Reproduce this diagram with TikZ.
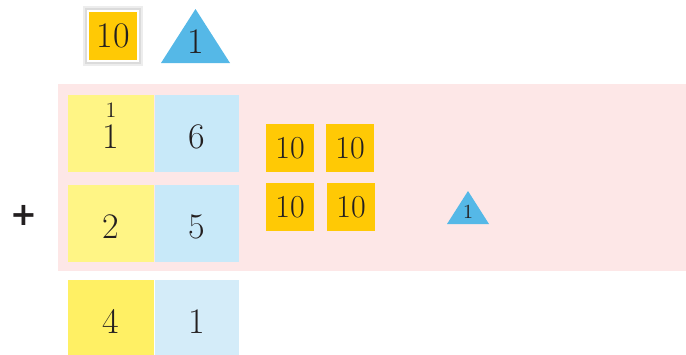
\documentclass[tikz,border=0pt]{standalone}
\usepackage{fontspec}
\usetikzlibrary{positioning,backgrounds}

\newfontfamily\plusfont{DejaVu Sans}

\definecolor{tensfill}{RGB}{255,201,5}
\definecolor{onesfill}{RGB}{85,184,231}
\definecolor{bandpink}{RGB}{253,231,231}
\definecolor{tenscol}{RGB}{255,245,133}
\definecolor{onescol}{RGB}{200,233,249}
\definecolor{tenscolb}{RGB}{255,240,100}
\definecolor{onescolb}{RGB}{212,236,249}
\definecolor{ink}{RGB}{35,31,32}

\begin{document}
\begin{tikzpicture}[
  x=0.5pt, y=-0.5pt,
  font=\fontsize{18}{20}\selectfont,
  every node/.style={text=ink},
  cell/.style={minimum width=43pt, minimum height=38.5pt, inner sep=0pt,
               text height=15pt},
  tcell/.style={cell, fill=tenscol},
  ocell/.style={cell, fill=onescol, minimum width=42pt},
  tens/.style={fill=tensfill, minimum size=24pt, inner sep=0pt,
               font=\fontsize{16}{18}\selectfont},
  ones/.style={inner sep=0pt,
    path picture={%
      \fill[onesfill] (path picture bounding box.south west)
        -- (path picture bounding box.south east)
        -- (path picture bounding box.north) -- cycle;}}
]
\useasboundingbox (0,0) rectangle (686,354);

% ---------- blokken bovenaan ----------
\fill[black!7]  (83,6) rectangle (143,66);
\fill[black!14] (85,8) rectangle (141,64);
\node[tens, draw=white, line width=0.6pt, minimum size=25pt,
      font=\fontsize{18}{20}\selectfont] (top10) at (113,36) {10};
\node[ones, minimum width=34.5pt, minimum height=27pt, text height=17pt,
      font=\fontsize{18}{20}\selectfont] (top1) at (195.5,36) {1};

% ---------- rijen (T en E) ----------
\node[tcell] (r1t) at (111,133.5) {1};
\node[ocell, right=0pt of r1t] (r1o) {6};
\node[tcell, below=6pt of r1t] (r2t) {2};
\node[ocell, right=0pt of r2t] (r2o) {5};
\node[tcell, fill=tenscolb, below=8.5pt of r2t] (r3t) {4};
\node[ocell, fill=onescolb, right=0pt of r3t] (r3o) {1};

% carry
\node[font=\fontsize{11}{12}\selectfont] (carry) at (111,110) {1};

% ---------- tientallen en eenheid in de band ----------
\node[tens] (a10) at (290,148) {10};
\node[tens] (b10) at (350,148) {10};
\node[tens] (c10) at (290,207) {10};
\node[tens] (d10) at (351,207) {10};
\node[ones, minimum width=21pt, minimum height=16.5pt, text height=11pt,
      font=\fontsize{10}{10}\selectfont] (e1) at (468,207.5) {1};

% plusteken
\node[font=\fontsize{16}{18}\plusfont\bfseries] (plus) at (24,215) {+};

% ---------- roze band ----------
\begin{scope}[on background layer]
  \fill[bandpink] (58,84) rectangle (686,271);
\end{scope}

\end{tikzpicture}
\end{document}
